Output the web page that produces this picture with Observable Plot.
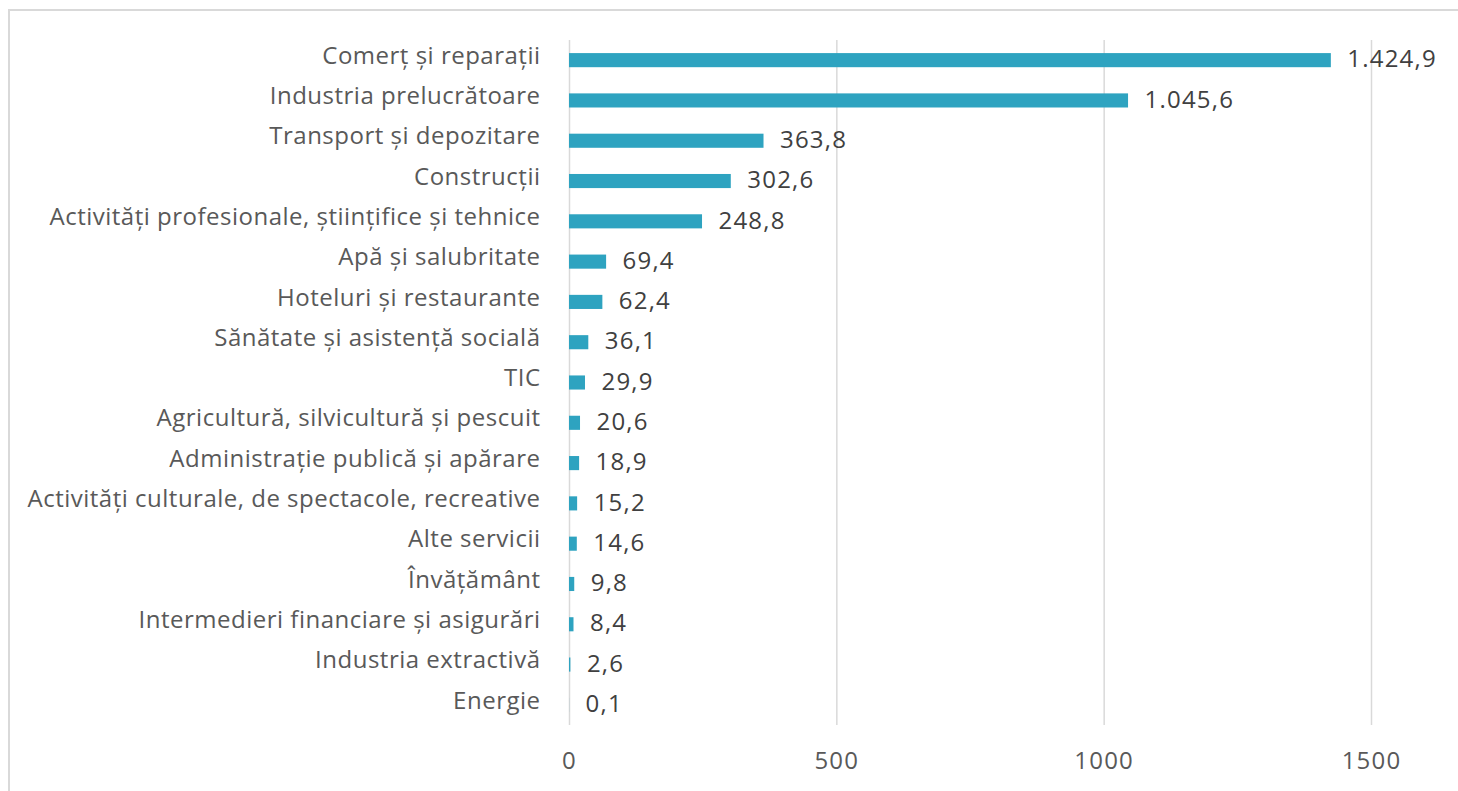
<!DOCTYPE html>
<html>
<head>
<meta charset="utf-8">
<script src="https://cdn.jsdelivr.net/npm/d3@7"></script>
<script src="https://cdn.jsdelivr.net/npm/@observablehq/plot@0.6"></script>
<style>
  html, body { margin: 0; padding: 0; background: #fff; overflow: hidden; }
  #frame { position: absolute; left: 8px; top: 9px; width: 1500px; height: 900px;
           border-top: 2px solid #d9d9d9; border-left: 2px solid #d9d9d9; box-sizing: border-box; }
  #chart { position: absolute; left: 0; top: 0; }
  .ylab text { letter-spacing: 0.5px; }
  .vals text, .xlab text { letter-spacing: 1.2px; }
</style>
</head>
<body>
<div id="frame"></div>
<div id="chart"></div>
<script>
const categories = [
  "Comerț și reparații",
  "Industria prelucrătoare",
  "Transport și depozitare",
  "Construcții",
  "Activități profesionale, științifice și tehnice",
  "Apă și salubritate",
  "Hoteluri și restaurante",
  "Sănătate și asistență socială",
  "TIC",
  "Agricultură, silvicultură și pescuit",
  "Administrație publică și apărare",
  "Activități culturale, de spectacole, recreative",
  "Alte servicii",
  "Învățământ",
  "Intermedieri financiare și asigurări",
  "Industria extractivă",
  "Energie"
];
const values = [1424.9, 1045.6, 363.8, 302.6, 248.8, 69.4, 62.4, 36.1, 29.9, 20.6, 18.9, 15.2, 14.6, 9.8, 8.4, 2.6, 0.1];
const xTicks = [0, 500, 1000, 1500];

const data = categories.map((c, i) => ({category: c, value: values[i]}));
const fmt = v => {
  const [int, dec] = v.toFixed(1).split(".");
  return int.replace(/\B(?=(\d{3})+(?!\d))/g, ".") + "," + dec;
};

const chart = Plot.plot({
  width: 1458,
  height: 791,
  marginLeft: 569,
  marginRight: 87,
  marginTop: 40,
  marginBottom: 66,
  style: {fontFamily: "'Open Sans', sans-serif", fontSize: "24px", background: "transparent"},
  x: {domain: [0, 1500], ticks: xTicks},
  y: {domain: categories, paddingInner: 0.65, paddingOuter: 0.325, round: false},
  marks: [
    Plot.gridX(xTicks, {stroke: "#d9d9d9", strokeOpacity: 1, strokeWidth: 1.5}),
    Plot.barX(data, {x: "value", y: "category", fill: "#2ea3c0"}),
    Plot.text(data, {x: "value", y: "category", text: d => fmt(d.value), textAnchor: "start", dx: 16, dy: -1, fill: "#404040", fontSize: 24, className: "vals"}),
    Plot.axisX(xTicks, {tickSize: 0, tickPadding: 26, label: null, fill: "#595959", tickFormat: d => String(d), fontSize: 24, className: "xlab"}),
    Plot.axisY({tickSize: 0, tickPadding: 29, label: null, fill: "#595959", dy: -4.5, fontSize: 24, className: "ylab"})
  ]
});
document.getElementById("chart").appendChild(chart);
</script>
</body>
</html>
